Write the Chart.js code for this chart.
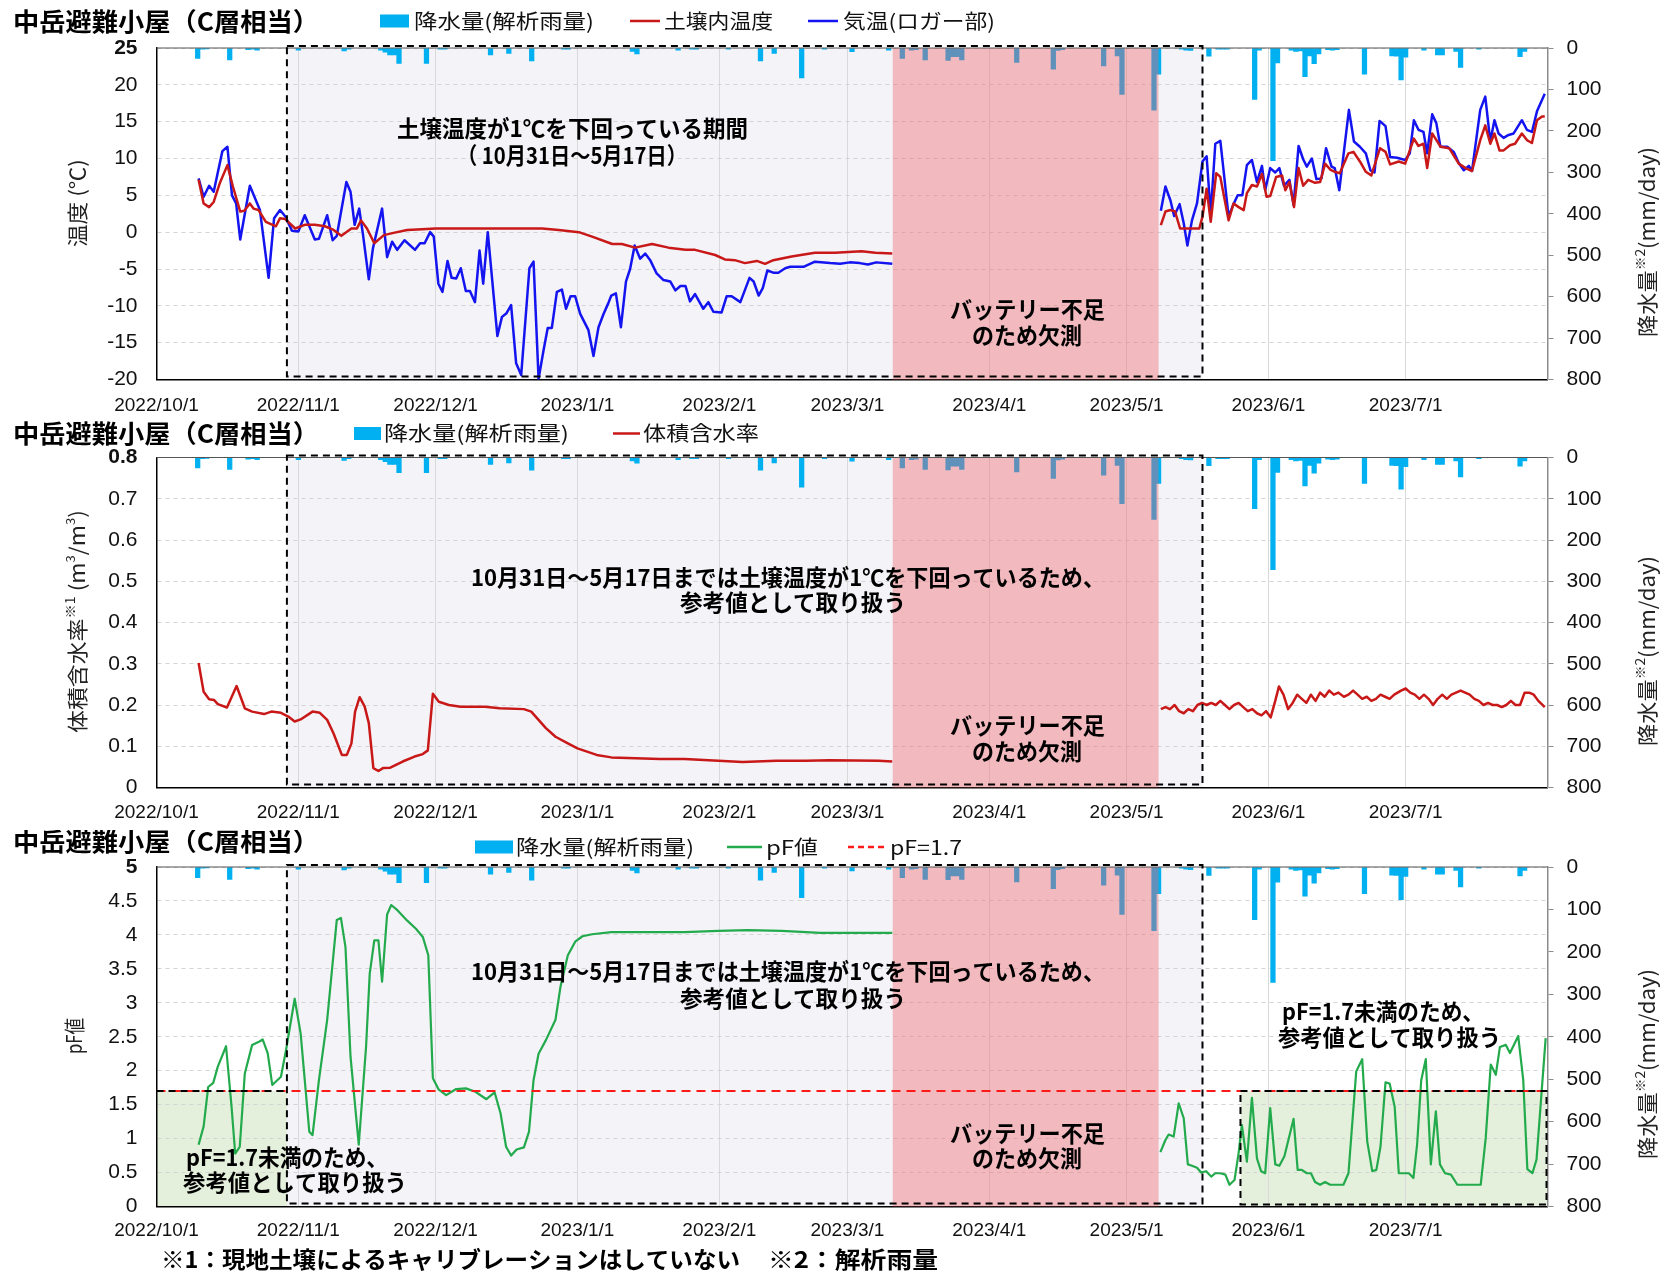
<!DOCTYPE html>
<html lang="ja">
<head>
<meta charset="utf-8">
<title>中岳避難小屋（C層相当）</title>
<script src="https://cdn.jsdelivr.net/npm/chart.js@4.4.1/dist/chart.umd.min.js"></script>
<style>
  html, body { margin: 0; padding: 0; background: #fff; }
  #page { position: relative; width: 1666px; height: 1275px; overflow: hidden; background: #fff; }
  #page canvas { position: absolute; left: 0; }
</style>
</head>
<body>
<div id="page">
  <canvas id="panelTemp" width="1666" height="415" style="top:0px"></canvas>
  <canvas id="panelVwc" width="1666" height="415" style="top:415px"></canvas>
  <canvas id="panelPf" width="1666" height="445" style="top:830px"></canvas>
</div>
<script>
// ---- x axis: days counted from 2022/10/1 ----
const dayMax = 304;
const monthTickDays = [0, 31, 61, 92, 123, 151, 182, 212, 243, 273];
const monthTickLabels = ['2022/10/1', '2022/11/1', '2022/12/1', '2023/1/1', '2023/2/1',
                         '2023/3/1', '2023/4/1', '2023/5/1', '2023/6/1', '2023/7/1'];

// periods (day offsets)
const coldPeriod = [28.5, 228.6];      // soil below 1℃ (10/31–5/17)
const batteryGap = [160.9, 219.0];     // logger down
const pfLowRanges = [[0, 28.5], [236.9, 304]];
const pfThreshold = 1.7;

// daily analysed rainfall [day, mm/day]
const rainfall = [[9,25],[10,3],[11,2],[16,29],[20,4],[21,3],[22,5],[31,5],[41,7],[42,3],
  [49,5],[50,10],[51,17],[52,17],[53,37],[59,37],[62,3],[63,3],[73,17],[77,13],[82,31],
  [89,3],[90,3],[104,8],[105,14],[114,5],[117,3],[118,3],[125,3],[132,31],[135,13],[141,72],
  [146,3],[152,9],[160,5],[163,25],[165,5],[166,4],[168,29],[173,30],[174,21],[175,21],[176,29],
  [188,35],[196,51],[197,6],[198,4],[207,43],[210,19],[211,112],[218,150],[219,63],[224,3],
  [225,5],[226,6],[230,20],[232,3],[233,3],[234,3],[240,124],[241,5],[244,272],[245,36],
  [248,5],[249,8],[250,7],[251,69],[252,19],[253,38],[254,14],[256,4],[257,5],[258,4],
  [264,63],[270,19],[271,20],[272,77],[273,22],[277,5],[280,17],[281,17],[284,8],[285,47],
  [289,3],[298,21],[299,8]];

// air temperature at the logger [day, ℃]; null = missing
const airTemp = [[9.2,7.3],[10.3,4.8],[11.5,6.3],[12.5,5.5],[14.4,11.0],[15.5,11.6],[16.5,5.0],
  [17.4,3.9],[18.3,-1.0],[20.4,6.3],[22.6,3.0],[24.5,-6.2],[25.7,1.9],[27.0,3.0],[28.2,2.1],
  [29.6,0.2],[31.0,0.1],[32.4,2.3],[34.6,-1.0],[35.5,-0.9],[37.3,2.3],[38.5,-1.1],[39.4,-0.5],
  [40.2,2.3],[41.5,6.8],[42.4,5.5],[43.3,1.0],[44.3,3.2],[45.1,-0.2],[46.4,-6.4],[47.3,-2.2],
  [49.3,3.2],[50.4,-3.4],[51.5,-1.3],[52.6,-2.4],[54.2,-1.1],[56.5,-2.4],[57.6,-1.5],[58.6,-1.5],
  [59.8,0.0],[60.6,-0.6],[61.6,-7.0],[62.5,-8.1],[63.6,-3.9],[64.5,-6.2],[65.5,-6.3],[66.5,-4.9],
  [67.6,-8.0],[68.5,-8.0],[69.6,-9.5],[70.6,-2.5],[71.4,-7.0],[72.4,0.0],[74.5,-14.1],[75.5,-11.5],
  [76.5,-11.0],[77.5,-9.9],[78.6,-17.8],[79.7,-19.4],[81.5,-4.9],[82.4,-4.0],[83.5,-19.9],
  [84.6,-16.0],[85.5,-13.0],[86.4,-13.0],[87.5,-8.1],[88.6,-7.8],[89.5,-10.4],[90.5,-8.7],
  [91.5,-8.7],[92.6,-11.1],[94.4,-13.3],[95.5,-16.8],[96.6,-12.9],[97.7,-11.1],[98.7,-9.7],
  [99.4,-8.6],[100.4,-8.3],[101.5,-12.9],[102.6,-6.7],[103.5,-5.0],[104.5,-1.8],[105.7,-3.6],
  [106.8,-2.9],[107.9,-3.8],[109.3,-5.6],[110.8,-6.5],[112.3,-6.7],[113.4,-7.9],[114.5,-7.3],
  [115.6,-7.3],[116.6,-9.4],[117.7,-8.4],[119.5,-10.4],[120.6,-9.5],[121.7,-10.8],[123.5,-10.9],
  [124.6,-8.7],[125.7,-8.7],[127.6,-9.5],[129.6,-6.2],[130.5,-6.7],[131.6,-8.6],[132.5,-7.6],
  [133.5,-5.2],[134.8,-5.5],[135.9,-5.5],[137.4,-4.9],[138.5,-4.7],[141.4,-4.7],[143.9,-4.0],
  [147.2,-4.2],[149.4,-4.3],[151.5,-4.1],[153.7,-4.2],[155.5,-4.4],[157.3,-4.1],[160.8,-4.3],
  [190,null],
  [219.5,2.9],[220.5,6.2],[221.6,4.3],[222.4,2.2],[223.6,3.8],[224.5,1.2],[225.3,-1.8],[226.3,1.6],
  [227.4,3.9],[228.6,9.6],[229.5,10.3],[230.4,2.5],[231.4,12.0],[232.5,12.4],[234.3,2.1],[235.3,3.7],
  [236.3,5.0],[237.3,5.0],[238.3,9.1],[239.4,9.8],[240.5,6.8],[241.6,9.0],[242.3,5.7],[243.4,8.7],
  [244.5,8.1],[245.4,8.7],[246.4,6.3],[247.6,7.1],[248.5,3.7],[249.6,11.7],[250.6,9.9],[251.4,8.9],
  [252.5,10.0],[253.5,7.2],[254.6,7.3],[255.6,11.4],[256.8,8.9],[257.5,8.7],[258.5,5.7],[260.6,16.6],
  [261.7,12.3],[263.0,11.6],[264.3,10.7],[265.3,8.4],[266.2,8.1],[267.3,15.1],[268.6,14.4],
  [269.6,10.2],[271.1,10.1],[272.9,9.8],[273.9,10.7],[274.8,15.2],[275.8,13.9],[276.9,13.6],
  [277.7,10.7],[278.8,16.0],[279.7,14.8],[280.6,11.6],[282.1,11.6],[283.5,10.9],[284.6,9.4],
  [285.7,8.4],[286.8,9.0],[287.5,8.3],[289.3,16.6],[290.4,18.4],[291.5,12.3],[292.4,15.2],
  [293.3,13.4],[294.4,12.8],[295.5,13.2],[296.6,13.4],[298.4,15.2],[299.5,13.9],[300.6,13.6],
  [301.7,16.4],[303.4,18.8]];

// soil temperature [day, ℃]
const soilTemp = [[9.2,7.1],[10.3,3.9],[11.5,3.4],[12.5,4.1],[13.8,6.6],[15.5,9.1],[16.7,6.2],
  [18.3,2.8],[19.2,2.9],[20.4,3.9],[21.2,3.2],[22.3,3.0],[23.9,1.4],[26.1,0.8],[27.0,1.9],[28.1,1.8],
  [30.3,0.5],[32.4,1.0],[34.6,1.0],[36.8,0.8],[38.7,0.3],[40.4,-0.5],[42.6,0.5],[43.8,0.5],[44.7,1.6],
  [46.0,0.5],[47.6,-1.5],[49.7,-0.4],[51.8,-0.1],[54.8,0.3],[58.0,0.4],[61.0,0.5],[84.3,0.5],
  [87.9,0.3],[92.3,0.0],[95.2,-0.6],[99.6,-1.6],[101.7,-1.6],[104.6,-2.1],[108.3,-1.6],[111.9,-2.1],
  [115.6,-2.4],[117.7,-2.4],[122.1,-3.1],[124.2,-3.7],[126.4,-3.8],[128.6,-4.2],[131.2,-3.9],
  [133.0,-4.3],[134.8,-3.8],[138.8,-3.3],[143.9,-2.8],[148.3,-2.8],[154.1,-2.6],[157.1,-2.8],
  [160.8,-2.9],
  [190,null],
  [219.5,0.95],[220.5,2.8],[221.6,3.0],[222.6,2.8],[223.7,0.5],[227.9,0.5],[228.6,2.1],[229.5,5.9],
  [230.4,1.4],[231.6,8.0],[232.5,7.5],[234.3,1.6],[235.4,3.9],[236.5,3.4],[237.6,3.0],[238.3,5.3],
  [239.4,6.4],[240.5,6.2],[241.6,7.9],[242.6,4.8],[243.4,4.9],[244.7,7.5],[246.0,7.7],[246.7,5.7],
  [247.6,6.8],[248.6,3.4],[249.6,8.7],[250.6,6.3],[251.7,7.1],[253.2,6.7],[254.3,6.8],[255.4,9.3],
  [256.5,8.5],[257.5,8.2],[258.6,8.0],[260.5,10.7],[261.6,10.9],[263.0,9.6],[264.3,8.2],[265.5,7.7],
  [267.4,11.4],[268.6,10.9],[269.6,9.2],[271.5,9.6],[272.9,9.3],[274.8,12.7],[275.8,11.7],
  [276.9,12.0],[277.7,8.7],[278.8,13.4],[280.6,11.6],[282.5,11.4],[284.6,9.3],[286.1,8.7],
  [287.5,8.3],[289.3,12.5],[290.4,14.5],[291.5,12.0],[292.4,13.4],[293.5,11.1],[294.4,11.1],
  [295.8,11.8],[296.9,12.0],[298.4,13.4],[299.5,12.5],[300.6,12.1],[301.7,15.2],[302.8,15.7],
  [303.4,15.7]];

// volumetric water content [day, m3/m3]
const waterContent = [[9.2,0.302],[10.3,0.232],[11.5,0.214],[12.6,0.212],[13.4,0.202],[15.4,0.194],
  [17.5,0.246],[19.3,0.192],[20.9,0.184],[23.5,0.178],[25.1,0.184],[27.2,0.181],[28.8,0.172],
  [30.2,0.160],[31.5,0.165],[34.1,0.184],[35.7,0.181],[37.3,0.164],[38.7,0.131],[40.5,0.079],
  [41.6,0.079],[42.6,0.107],[43.4,0.184],[44.4,0.219],[45.5,0.196],[46.4,0.156],[47.4,0.047],
  [48.5,0.040],[49.5,0.047],[51.1,0.048],[53.8,0.063],[56.4,0.075],[58.2,0.081],[59.3,0.090],
  [60.4,0.227],[61.7,0.208],[63.9,0.200],[66.5,0.196],[71.8,0.196],[75.0,0.192],[80.3,0.190],
  [81.9,0.184],[83.5,0.164],[85.1,0.144],[87.2,0.123],[89.9,0.107],[92.0,0.095],[94.1,0.087],
  [96.2,0.079],[99.4,0.073],[104.7,0.071],[110.0,0.069],[115.4,0.069],[122.8,0.065],[128.1,0.062],
  [135.5,0.065],[141.9,0.065],[147.2,0.066],[157.8,0.065],[160.8,0.063],
  [190,null],
  [219.5,0.19],[220.5,0.195],[221.5,0.19],[222.5,0.2],[223.5,0.185],[224.5,0.18],[225.5,0.19],
  [226.5,0.185],[227.5,0.2],[228.5,0.205],[229.5,0.2],[230.5,0.205],[231.5,0.2],[232.5,0.21],
  [233.5,0.2],[234.5,0.19],[235.5,0.2],[236.5,0.205],[237.5,0.195],[238.5,0.185],[239.5,0.19],
  [240.5,0.18],[241.5,0.175],[242.5,0.185],[243.5,0.17],[244.5,0.21],[245.3,0.245],[246.3,0.225],
  [247.3,0.19],[248.3,0.205],[249.3,0.225],[250.3,0.215],[251.3,0.205],[252.3,0.225],[253.3,0.21],
  [254.3,0.23],[255.3,0.22],[256.3,0.235],[257.3,0.225],[258.3,0.23],[259.5,0.22],[260.5,0.225],
  [261.5,0.235],[262.5,0.225],[263.5,0.215],[264.5,0.22],[265.5,0.21],[266.5,0.215],[267.5,0.225],
  [268.5,0.22],[269.5,0.215],[270.5,0.225],[272,0.235],[273,0.24],[274,0.23],[275,0.225],
  [276,0.215],[277,0.225],[278,0.215],[279,0.2],[280,0.215],[281,0.225],[282,0.215],[283,0.225],
  [284,0.23],[285,0.235],[286,0.23],[287,0.225],[288,0.215],[289,0.21],[290,0.2],[291,0.205],
  [292,0.2],[293,0.2],[294,0.195],[295,0.2],[296,0.21],[297,0.2],[298,0.2],[299,0.23],[300,0.23],
  [301,0.225],[302,0.21],[303.4,0.195]];

// pF value [day, pF]
const pfValue = [[9.2,0.91],[10.3,1.18],[11.3,1.76],[12.4,1.82],[13.4,2.06],[15.2,2.36],[16.4,1.47],
  [17.2,0.78],[18.2,0.88],[19.3,1.96],[20.9,2.38],[22.5,2.43],[23.2,2.46],[24.3,2.26],[25.3,1.79],
  [27.2,1.91],[28.3,2.30],[30.2,3.06],[31.5,2.55],[33.4,1.10],[34.1,1.05],[35.5,1.86],[37.3,2.75],
  [39.4,4.22],[40.3,4.25],[41.3,3.82],[42.4,2.21],[44.2,0.91],[45.8,2.35],[46.6,3.43],[47.6,3.92],
  [48.5,3.92],[49.3,3.31],[50.4,4.30],[51.3,4.44],[52.7,4.36],[54.8,4.21],[56.7,4.09],[58.2,3.97],
  [59.4,3.70],[60.4,1.89],[61.7,1.72],[63.3,1.64],[65.5,1.73],[67.6,1.74],[69.7,1.69],[72.1,1.58],
  [73.9,1.68],[75.2,1.37],[76.4,0.88],[77.5,0.75],[78.7,0.84],[80.3,0.87],[81.4,1.10],[82.4,1.86],
  [83.5,2.25],[85.1,2.45],[87.2,2.75],[88.3,3.24],[89.9,3.70],[91.5,3.90],[93.1,3.98],[95.2,4.01],
  [99.4,4.04],[104.7,4.04],[115.4,4.04],[122.8,4.06],[129.2,4.07],[136.6,4.06],[145.1,4.03],
  [160.8,4.03],
  [190,null],
  [219.4,0.80],[220.5,0.98],[221.2,1.06],[222.3,1.03],[223.4,1.52],[224.5,1.30],[225.4,0.62],
  [226.3,0.60],[227.4,0.57],[228.3,0.50],[229.4,0.52],[230.5,0.44],[231.4,0.49],[232.5,0.49],
  [233.6,0.47],[234.5,0.32],[235.6,0.39],[236.5,0.79],[237.2,1.20],[238.3,0.66],[239.4,1.60],
  [240.5,0.71],[241.4,0.52],[242.3,0.49],[243.4,1.45],[244.5,0.62],[245.4,0.60],[246.5,0.74],
  [248.5,1.29],[249.4,0.54],[250.3,0.54],[251.4,0.49],[252.3,0.49],[253.2,0.36],[254.3,0.32],
  [255.4,0.36],[256.5,0.32],[259.4,0.32],[260.5,0.49],[262.2,1.99],[263.5,2.17],[264.6,0.96],
  [265.7,0.52],[266.6,0.54],[267.5,0.88],[268.6,1.83],[269.5,1.81],[270.6,1.47],[271.5,0.49],
  [273.7,0.49],[274.7,0.42],[275.5,0.91],[276.4,1.86],[277.4,2.17],[278.5,0.62],[279.6,1.40],
  [280.5,0.62],[281.6,0.49],[282.9,0.47],[284.3,0.32],[289.4,0.32],[290.5,1.01],[291.6,2.09],
  [292.7,1.94],[293.6,2.35],[294.9,2.38],[295.8,2.26],[297.6,2.51],[298.7,1.86],[299.6,0.55],
  [300.7,0.49],[301.6,0.69],[303.6,2.48]];

// ---- styling ----
const BAR_COLOR = '#00b0f0';
const SOIL_COLOR = '#c81818';
const AIR_COLOR = '#1414f0';
const PF_COLOR = '#22aa4c';
const PF_LINE_COLOR = '#ff1a1a';
const FONT_JP = '"Noto Sans CJK JP", "Noto Sans", sans-serif';
const FONT_NUM = '"Liberation Sans", Arial, sans-serif';

const rightTitleSegs = [['降水量', 21, 0], ['※2', 13, 7], ['(mm/day)', 21, 0]];

// layout of each panel in page pixels
const panelSpecs = {
  panelTemp: {
    top: 0, height: 415, areaTop: 48, areaBottom: 379.5, xPad: 15,
    title: { x0: 13, x1: 319, cy: 21 },
    legend: [
      { kind: 'rect', x0: 380, x1: 409, cy: 21, color: BAR_COLOR },
      { kind: 'text', t: '降水量(解析雨量)', x0: 414, x1: 594, cy: 21 },
      { kind: 'line', x0: 630, x1: 660, cy: 21, color: SOIL_COLOR },
      { kind: 'text', t: '土壌内温度', x0: 664, x1: 773, cy: 21 },
      { kind: 'line', x0: 808, x1: 838, cy: 21, color: AIR_COLOR },
      { kind: 'text', t: '気温(ロガー部)', x0: 843, x1: 995, cy: 21 }
    ],
    leftTitle: { segs: [['温度 (℃)', 21, 0]], cx: 77, cy: 203, len: 88 },
    rightTitle: { cx: 1647, cy: 242, len: 190 },
    notes: [
      { t: '土壌温度が1℃を下回っている期間', x0: 397, x1: 748, cy: 128 },
      { t: '（ 10月31日～5月17日）', x0: 457, x1: 687, cy: 155 },
      { t: 'バッテリー不足', x0: 950, x1: 1105, cy: 309 },
      { t: 'のため欠測', x0: 972, x1: 1082, cy: 335 }
    ]
  },
  panelVwc: {
    top: 415, height: 415, areaTop: 457.5, areaBottom: 787.5, xPad: 14,
    title: { x0: 13, x1: 319, cy: 433.5 },
    legend: [
      { kind: 'rect', x0: 354, x1: 381, cy: 433.5, color: BAR_COLOR },
      { kind: 'text', t: '降水量(解析雨量)', x0: 384, x1: 569, cy: 433.5 },
      { kind: 'line', x0: 613, x1: 640, cy: 433.5, color: SOIL_COLOR },
      { kind: 'text', t: '体積含水率', x0: 643, x1: 759, cy: 433.5 }
    ],
    leftTitle: { segs: [['体積含水率', 21, 0], ['※1', 13, 7], [' (m', 21, 0], ['3', 12, 7], ['/m', 21, 0], ['3', 12, 7], [')', 21, 0]],
                 cx: 77.5, cy: 621.5, len: 223 },
    rightTitle: { cx: 1647, cy: 651, len: 190 },
    notes: [
      { t: '10月31日～5月17日までは土壌温度が1℃を下回っているため、', x0: 471, x1: 1105, cy: 577 },
      { t: '参考値として取り扱う', x0: 680, x1: 906, cy: 602.5 },
      { t: 'バッテリー不足', x0: 950, x1: 1105, cy: 725 },
      { t: 'のため欠測', x0: 972, x1: 1082, cy: 751 }
    ]
  },
  panelPf: {
    top: 830, height: 445, areaTop: 867, areaBottom: 1206.5, xPad: 13, pfBoxes: true,
    title: { x0: 13, x1: 319, cy: 841.5 },
    legend: [
      { kind: 'rect', x0: 475, x1: 513, cy: 847, color: BAR_COLOR },
      { kind: 'text', t: '降水量(解析雨量)', x0: 516, x1: 694, cy: 847 },
      { kind: 'line', x0: 727, x1: 762, cy: 847, color: PF_COLOR },
      { kind: 'text', t: 'pF値', x0: 766, x1: 818, cy: 847 },
      { kind: 'dash', x0: 848, x1: 886, cy: 847, color: PF_LINE_COLOR },
      { kind: 'text', t: 'pF=1.7', x0: 890, x1: 962, cy: 847 }
    ],
    leftTitle: { segs: [['pF値', 21, 0]], cx: 74, cy: 1036, len: 36 },
    rightTitle: { cx: 1647, cy: 1064, len: 190 },
    notes: [
      { t: '10月31日～5月17日までは土壌温度が1℃を下回っているため、', x0: 471, x1: 1105, cy: 971 },
      { t: '参考値として取り扱う', x0: 680, x1: 906, cy: 998 },
      { t: 'バッテリー不足', x0: 950, x1: 1105, cy: 1133 },
      { t: 'のため欠測', x0: 972, x1: 1082, cy: 1158 },
      { t: 'pF=1.7未満のため、', x0: 186, x1: 388, cy: 1157 },
      { t: '参考値として取り扱う', x0: 183, x1: 407, cy: 1182.5 },
      { t: 'pF=1.7未満のため、', x0: 1282, x1: 1484, cy: 1011.5 },
      { t: '参考値として取り扱う', x0: 1278, x1: 1501, cy: 1037 },
      { t: '※1：現地土壌によるキャリブレーションはしていない', x0: 161, x1: 740, cy: 1259 },
      { t: '※2：解析雨量', x0: 768, x1: 938, cy: 1259 }
    ]
  }
};

// ---- drawing helpers ----
function fitText(ctx, text, x0, x1, cy, font, color) {
  ctx.save();
  ctx.font = font;
  ctx.fillStyle = color || '#000';
  ctx.textBaseline = 'middle';
  ctx.textAlign = 'left';
  const w = ctx.measureText(text).width;
  ctx.translate(x0, cy);
  ctx.scale((x1 - x0) / w, 1);
  ctx.fillText(text, 0, 0);
  ctx.restore();
}

function rotatedTitle(ctx, segs, cx, cy, len) {
  ctx.save();
  const widths = segs.map(([t, size]) => { ctx.font = `${size}px ${FONT_JP}`; return ctx.measureText(t).width; });
  const total = widths.reduce((a, b) => a + b, 0);
  ctx.translate(cx, cy);
  ctx.rotate(-Math.PI / 2);
  ctx.scale(len / total, 1);
  ctx.textBaseline = 'middle';
  ctx.textAlign = 'left';
  ctx.fillStyle = '#222';
  let x = -total / 2;
  segs.forEach(([t, size, rise], i) => {
    ctx.font = `${size}px ${FONT_JP}`;
    ctx.fillText(t, x, -rise);
    x += widths[i];
  });
  ctx.restore();
}

const panelDeco = {
  id: 'panelDeco',
  beforeDraw(chart) {
    const spec = panelSpecs[chart.canvas.id];
    const { ctx, chartArea: a, scales: { x, y } } = chart;
    ctx.save();
    const c0 = x.getPixelForValue(coldPeriod[0]), c1 = x.getPixelForValue(coldPeriod[1]);
    ctx.fillStyle = '#f3f3f8';
    ctx.fillRect(c0, a.top, c1 - c0, a.bottom - a.top);
    if (spec.pfBoxes) {
      const yT = y.getPixelForValue(pfThreshold);
      ctx.fillStyle = '#e4f0db';
      pfLowRanges.forEach(([d0, d1]) => {
        const p0 = x.getPixelForValue(d0), p1 = Math.min(x.getPixelForValue(d1), a.right);
        ctx.fillRect(p0, yT, p1 - p0, a.bottom - yT);
      });
    }
    ctx.restore();
  },
  afterDatasetDraw(chart, args) {
    if (args.meta.type !== 'bar') return;
    const { ctx, chartArea: a, scales: { x } } = chart;
    const g0 = x.getPixelForValue(batteryGap[0]), g1 = x.getPixelForValue(batteryGap[1]);
    ctx.save();
    ctx.fillStyle = 'rgba(240, 100, 105, 0.40)';
    ctx.fillRect(g0, a.top, g1 - g0, a.bottom - a.top);
    ctx.restore();
  },
  afterDatasetsDraw(chart) {
    const spec = panelSpecs[chart.canvas.id];
    const { ctx, chartArea: a, scales: { x, y } } = chart;
    ctx.save();
    // top frame line
    ctx.strokeStyle = '#555';
    ctx.lineWidth = 1.2;
    ctx.beginPath(); ctx.moveTo(a.left, a.top); ctx.lineTo(a.right, a.top); ctx.stroke();
    // dashed outlines
    ctx.strokeStyle = '#000';
    ctx.lineWidth = 2;
    ctx.setLineDash([7, 5]);
    const c0 = x.getPixelForValue(coldPeriod[0]), c1 = x.getPixelForValue(coldPeriod[1]);
    ctx.strokeRect(c0, a.top - 2, c1 - c0, a.bottom - a.top - 1);
    if (spec.pfBoxes) {
      const yT = y.getPixelForValue(pfThreshold);
      const l1 = x.getPixelForValue(pfLowRanges[0][1]);
      ctx.beginPath(); ctx.moveTo(a.left, yT); ctx.lineTo(l1, yT); ctx.stroke();
      const r0 = x.getPixelForValue(pfLowRanges[1][0]);
      ctx.strokeRect(r0, yT, a.right - 1 - r0, a.bottom - 2 - yT);
    }
    ctx.restore();
  },
  afterDraw(chart) {
    const spec = panelSpecs[chart.canvas.id];
    const ctx = chart.ctx;
    const oy = spec.top;
    fitText(ctx, '中岳避難小屋（C層相当）', spec.title.x0, spec.title.x1, spec.title.cy - oy, `bold 25px ${FONT_JP}`, '#000');
    spec.legend.forEach(it => {
      const cy = it.cy - oy;
      ctx.save();
      if (it.kind === 'rect') {
        ctx.fillStyle = it.color;
        ctx.fillRect(it.x0, cy - 6.5, it.x1 - it.x0, 13);
      } else if (it.kind === 'line' || it.kind === 'dash') {
        ctx.strokeStyle = it.color;
        ctx.lineWidth = 2.5;
        if (it.kind === 'dash') ctx.setLineDash([6, 4]);
        ctx.beginPath(); ctx.moveTo(it.x0, cy); ctx.lineTo(it.x1, cy); ctx.stroke();
      } else {
        fitText(ctx, it.t, it.x0, it.x1, cy, `20px ${FONT_JP}`, '#111');
      }
      ctx.restore();
    });
    rotatedTitle(ctx, spec.leftTitle.segs, spec.leftTitle.cx, spec.leftTitle.cy - oy, spec.leftTitle.len);
    rotatedTitle(ctx, rightTitleSegs, spec.rightTitle.cx, spec.rightTitle.cy - oy, spec.rightTitle.len);
    spec.notes.forEach(n => fitText(ctx, n.t, n.x0, n.x1, n.cy - oy, `bold 23px ${FONT_JP}`, '#000'));
  }
};

// ---- scales ----
function xScale(spec) {
  const axisHeight = spec.top + spec.height - spec.areaBottom;
  return {
    type: 'linear', min: 0, max: dayMax, offset: false,
    afterBuildTicks: s => { s.ticks = monthTickDays.map(v => ({ value: v })); },
    afterFit: s => { s.height = axisHeight; },
    ticks: {
      autoSkip: false, maxRotation: 0, minRotation: 0, padding: spec.xPad, color: '#111',
      font: { family: FONT_NUM, size: 19 },
      callback: v => { const i = monthTickDays.indexOf(v); return i >= 0 ? monthTickLabels[i] : ''; }
    },
    grid: { color: '#d9d9d9', lineWidth: 1, drawTicks: false, offset: false },
    border: { color: '#000', width: 1.5 }
  };
}

function leftScale(min, max, step) {
  return {
    position: 'left', min, max,
    afterFit: s => { s.width = 156.5; },
    ticks: {
      stepSize: step, padding: 19, color: '#111',
      callback: v => String(Math.round(v * 100) / 100),
      font: c => ({ family: FONT_NUM, size: 21,
                    weight: (c.tick && Math.abs(c.tick.value - max) < 1e-9) ? 'bold' : 'normal' })
    },
    grid: { color: '#d4d4d4', lineWidth: 1, drawTicks: false },
    border: { color: '#000', width: 1.5, dash: [4, 4] }
  };
}

function rightScale() {
  return {
    position: 'right', reverse: true, min: 0, max: 800,
    afterFit: s => { s.width = 118.5; },
    ticks: { stepSize: 100, padding: 13, color: '#111', font: { family: FONT_NUM, size: 21 } },
    grid: { drawOnChartArea: false, drawTicks: true, tickLength: 6, color: '#8c8c8c' },
    border: { color: '#8c8c8c', width: 1.5 }
  };
}

const pts = arr => arr.map(([d, v]) => ({ x: d, y: v }));

function lineSet(data, color, width, dash) {
  return {
    type: 'line', data: pts(data), borderColor: color, backgroundColor: color,
    borderWidth: width, borderDash: dash || [], pointRadius: 0, tension: 0,
    spanGaps: false, fill: false, borderJoinStyle: 'round', yAxisID: 'y', order: 1
  };
}

function buildPanel(id, yAxis, lines) {
  const spec = panelSpecs[id];
  return new Chart(document.getElementById(id), {
    type: 'line',
    data: {
      datasets: [
        ...lines,
        { type: 'bar', data: pts(rainfall), backgroundColor: BAR_COLOR, barThickness: 4.6,
          yAxisID: 'y2', order: 10 }
      ]
    },
    options: {
      responsive: false, animation: false, events: [],
      layout: { padding: { top: spec.areaTop - spec.top, left: 0, right: 0, bottom: 0 } },
      plugins: { legend: { display: false }, tooltip: { enabled: false } },
      scales: { x: xScale(spec), y: yAxis, y2: rightScale() }
    },
    plugins: [panelDeco]
  });
}

buildPanel('panelTemp', leftScale(-20, 25, 5), [
  lineSet(soilTemp, SOIL_COLOR, 2.5),
  lineSet(airTemp, AIR_COLOR, 2.5)
]);
buildPanel('panelVwc', leftScale(0, 0.8, 0.1), [
  lineSet(waterContent, SOIL_COLOR, 2.5)
]);
buildPanel('panelPf', leftScale(0, 5, 0.5), [
  lineSet([[0, pfThreshold], [dayMax, pfThreshold]], PF_LINE_COLOR, 2, [9, 6]),
  lineSet(pfValue, PF_COLOR, 2.2)
]);
</script>
</body>
</html>
